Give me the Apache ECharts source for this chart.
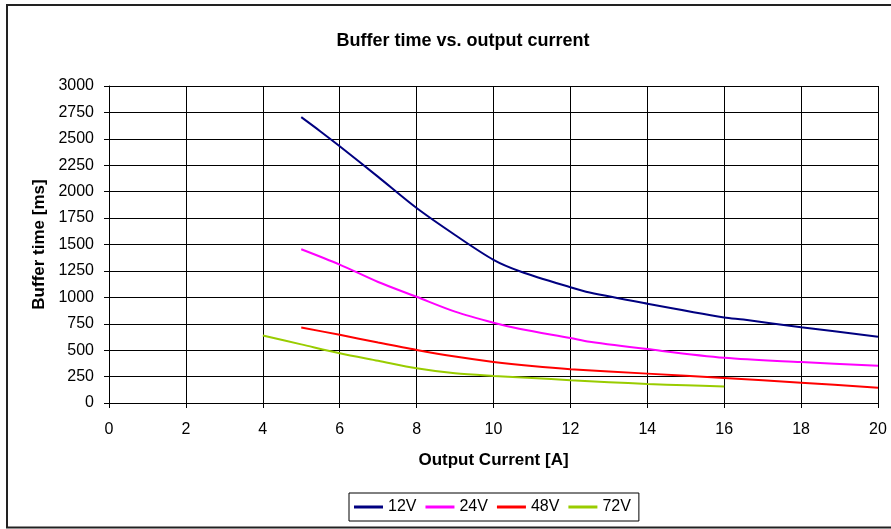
<!DOCTYPE html>
<html>
<head>
<meta charset="utf-8">
<script src="https://cdn.jsdelivr.net/npm/echarts@6/dist/echarts.min.js"></script>
<style>
html,body{margin:0;padding:0;background:#fff;}
#chart{width:891px;height:529px;}
</style>
</head>
<body>
<div id="chart"></div>
<script>
const FONT = '"Liberation Sans", Arial, sans-serif';
const titleText = 'Buffer time vs. output current';
const xName = 'Output Current [A]';
const yName = 'Buffer time [ms]';
const seriesNames = ['12V', '24V', '48V', '72V'];
const colors = ['#000080', '#FF00FF', '#FF0000', '#99CC00'];

const x12 = [5, 5.5, 6, 7, 8, 9, 10, 10.7, 12, 12.5, 14, 16, 16.5, 18, 20];
const y12 = [2705, 2570, 2430, 2140, 1845, 1590, 1355, 1245, 1095, 1045, 940, 810, 790, 717, 628];

const x24 = [5, 6, 7, 8, 9, 10, 10.7, 12, 12.5, 14, 16, 18, 20];
const y24 = [1455, 1310, 1145, 1005, 865, 760, 700, 615, 580, 510, 428, 387, 352];

const x48 = [5, 6, 7, 8, 9, 10, 11, 12, 14, 16, 18, 20];
const y48 = [715, 645, 572, 502, 440, 389, 350, 320, 278, 237, 192, 145];

const x72 = [4, 5, 6, 7, 8, 9, 10, 11, 12, 13, 14, 15, 16];
const y72 = [638, 555, 471, 400, 329, 281, 256, 237, 216, 197, 180, 168, 157];

const xs = [x12, x24, x48, x72];
const ys = [y12, y24, y48, y72];

const chart = echarts.init(document.getElementById('chart'));
chart.setOption({
  animation: false,
  backgroundColor: '#fff',
  title: {
    text: titleText,
    left: 458,
    textAlign: 'center',
    top: 27,
    textStyle: { fontFamily: FONT, fontSize: 18, fontWeight: 'bold', color: '#000' }
  },
  graphic: [{
    type: 'rect',
    shape: { x: 7, y: 5, width: 900, height: 522.5 },
    style: { fill: 'none', stroke: '#222', lineWidth: 2 },
    silent: true
  }],
  legend: {
    data: seriesNames,
    left: 349,
    top: 493,
    orient: 'horizontal',
    itemWidth: 29,
    itemHeight: 3,
    itemGap: 9,
    icon: 'rect',
    padding: [6, 8, 6, 5],
    borderColor: '#000',
    borderWidth: 1,
    borderRadius: 0,
    textStyle: { fontFamily: FONT, fontSize: 16, color: '#000' }
  },
  grid: { left: 109, right: 13, top: 86, bottom: 126, containLabel: false },
  xAxis: {
    type: 'value',
    min: 0, max: 20, interval: 2,
    name: xName,
    nameLocation: 'middle',
    nameGap: 49,
    nameTextStyle: { fontFamily: FONT, fontSize: 17, fontWeight: 'bold', color: '#000' },
    axisLine: { lineStyle: { color: '#000', width: 1 } },
    axisTick: { show: true, inside: false, length: 5, lineStyle: { color: '#000' } },
    axisLabel: { margin: 19, fontFamily: FONT, fontSize: 16, color: '#000', formatter: v => String(v) },
    splitLine: { show: true, lineStyle: { color: '#000', width: 1 } }
  },
  yAxis: {
    type: 'value',
    min: 0, max: 3000, interval: 250,
    name: yName,
    nameLocation: 'middle',
    nameGap: 61,
    nameTextStyle: { fontFamily: FONT, fontSize: 17, fontWeight: 'bold', color: '#000' },
    axisLine: { show: true, lineStyle: { color: '#000', width: 1 } },
    axisTick: { show: true, inside: false, length: 5, lineStyle: { color: '#000' } },
    axisLabel: { margin: 15, fontFamily: FONT, fontSize: 16, color: '#000', formatter: v => String(v) },
    splitLine: { show: true, lineStyle: { color: '#000', width: 1 } }
  },
  series: seriesNames.map((n, i) => ({
    name: n,
    type: 'line',
    data: xs[i].map((x, j) => [x, ys[i][j]]),
    showSymbol: false,
    smooth: 0.3,
    color: colors[i],
    lineStyle: { color: colors[i], width: 2 }
  }))
});
</script>
</body>
</html>
